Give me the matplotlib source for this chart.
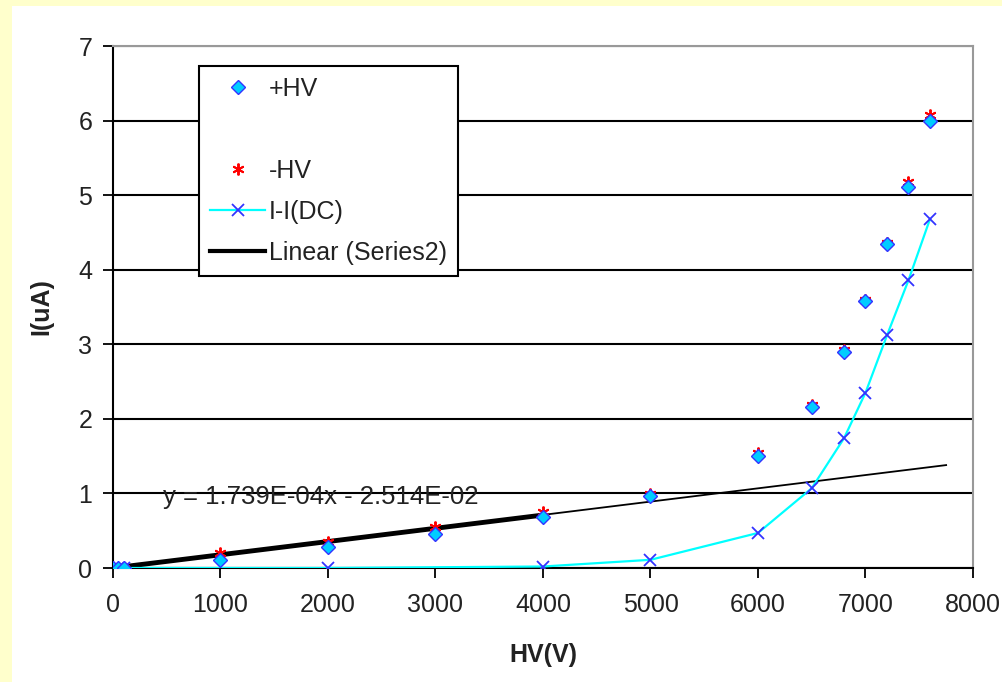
import numpy as np
import matplotlib.pyplot as plt
from matplotlib.lines import Line2D
from matplotlib.patches import Rectangle

plt.rcParams['font.family'] = ['Liberation Sans', 'DejaVu Sans']

# +HV / -HV measurements
hv = [0, 50, 100, 1000, 2000, 3000, 4000, 5000, 6000, 6500, 6800, 7000, 7200, 7400, 7600]
i_pos = [0.0, 0.0, 0.0, 0.11, 0.28, 0.45, 0.69, 0.965, 1.50, 2.16, 2.89, 3.58, 4.35, 5.11, 6.00]
i_neg = [0.0, 0.0, 0.0, 0.20, 0.35, 0.55, 0.755, 0.99, 1.54, 2.19, 2.92, 3.60, 4.36, 5.18, 6.07]

# I-I(DC) series
hv_dc = [0, 50, 100, 2000, 4000, 5000, 6000, 6500, 6800, 7000, 7200, 7400, 7600]
i_dc = [0.0, 0.0, 0.0, 0.0, 0.02, 0.11, 0.47, 1.07, 1.74, 2.35, 3.12, 3.86, 4.68]

# linear trendline (Series2)
trend_x = [0, 7750]
trend_y = [0.0, 1.38]
trend_thick_x = [0, 4000]
trend_thick_y = [0.0, 0.71]
eq_text = 'y = 1.739E-04x - 2.514E-02'

FS = 18

fig = plt.figure(figsize=(10.03, 6.82), dpi=100)
fig.patch.set_facecolor('#FFFFCC')
fig.patches.append(Rectangle((12 / 1003, 0), 1, 1 - 6 / 682, transform=fig.transFigure,
                             facecolor='white', edgecolor='none', zorder=-10))

ax = fig.add_axes([113 / 1003, 1 - 568 / 682, 860 / 1003, 522 / 682])

ax.plot(trend_x, trend_y, color='black', linewidth=1.3, zorder=3)
ax.plot(trend_thick_x, trend_thick_y, color='black', linewidth=3.5, zorder=3)
ax.plot(hv_dc, i_dc, color='#00FFFF', linewidth=1.6, marker='x', markersize=8.5,
        markeredgecolor='#3333FF', markeredgewidth=1.3, zorder=4)
ax.plot(hv, i_neg, linestyle='none', marker=(6, 2, 0), markersize=8.5,
        markeredgecolor='red', markeredgewidth=1.4, zorder=5)
ax.plot(hv, i_pos, linestyle='none', marker='D', markersize=7,
        markerfacecolor='#00CCFF', markeredgecolor='#3333FF', markeredgewidth=1.0, zorder=6)

ax.text(465, 0.95, eq_text, fontsize=18.5, ha='left', va='center', color='#222222', zorder=7)

ax.set_xlim(0, 8000)
ax.set_ylim(0, 7)
ax.set_xticks(range(0, 8001, 1000))
ax.set_yticks(range(0, 8))
ax.tick_params(axis='both', labelsize=FS, length=7, width=1.3, direction='out',
               colors='black', labelcolor='#222222')
ax.tick_params(axis='x', pad=11)
ax.tick_params(axis='y', pad=8)
ax.yaxis.grid(True, color='black', linewidth=1.5)
ax.set_axisbelow(True)
for side in ['left', 'bottom']:
    ax.spines[side].set_color('black')
    ax.spines[side].set_linewidth(1.5)
for side in ['top', 'right']:
    ax.spines[side].set_color('#999999')
    ax.spines[side].set_linewidth(1.5)

ax.set_xlabel('HV(V)', fontsize=FS, fontweight='bold', labelpad=19, color='#222222')
ax.set_ylabel('I(uA)', fontsize=FS, fontweight='bold', labelpad=18, color='#222222')

handles = [
    Line2D([], [], linestyle='none', marker='D', markersize=7,
           markerfacecolor='#00CCFF', markeredgecolor='#3333FF'),
    Line2D([], [], linestyle='none'),
    Line2D([], [], linestyle='none', marker=(6, 2, 0), markersize=8.5,
           markeredgecolor='red', markeredgewidth=1.4),
    Line2D([], [], color='#00FFFF', linewidth=1.6, marker='x', markersize=8.5,
           markeredgecolor='#3333FF', markeredgewidth=1.3),
    Line2D([], [], color='black', linewidth=3),
]
labels = ['+HV', '', '-HV', 'I-I(DC)', 'Linear (Series2)']
leg = ax.legend(handles, labels, loc='upper left', bbox_to_anchor=(0.1, 0.9617),
                borderaxespad=0, fontsize=FS, handlelength=2.2, handletextpad=0.15,
                borderpad=0.45, labelspacing=0.68, fancybox=False, framealpha=1,
                edgecolor='black')
leg.get_frame().set_linewidth(1.5)
for t in leg.get_texts():
    t.set_color('#222222')

fig.savefig('out.png', dpi=100, facecolor=fig.get_facecolor())
